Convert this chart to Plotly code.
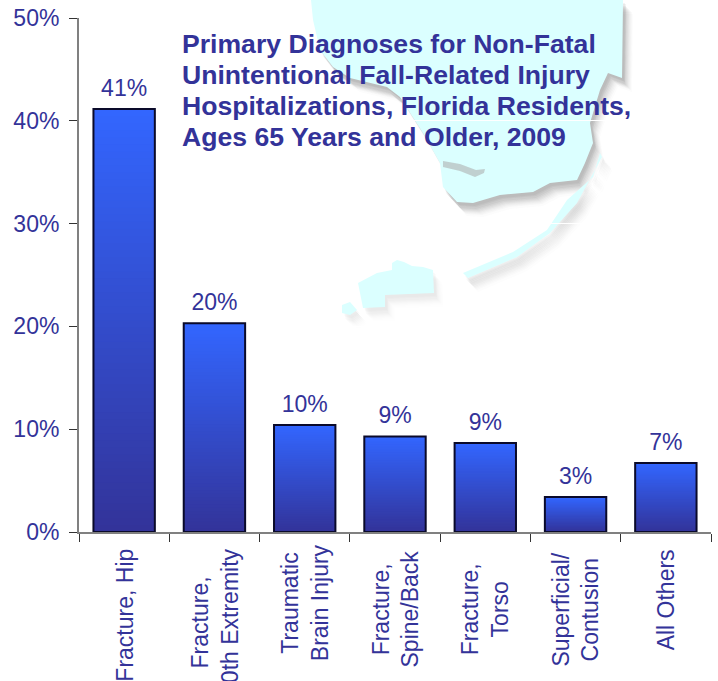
import plotly.graph_objects as go

categories = ["Fracture, Hip", "Fracture, 10th Extremity", "Traumatic Brain Injury",
              "Fracture, Spine/Back", "Fracture, Torso", "Superficial/ Contusion", "All Others"]
category_text = ["Fracture, Hip", "Fracture,<br>10th Extremity", "Traumatic<br>Brain Injury",
                 "Fracture,<br>Spine/Back", "Fracture,<br>Torso", "Superficial/<br>Contusion", "All Others"]
values = [41.15, 20.3, 10.4, 9.3, 8.65, 3.4, 6.7]
labels = ["41%", "20%", "10%", "9%", "9%", "3%", "7%"]
y_ticks = [0, 10, 20, 30, 40, 50]
y_tick_labels = ["0%", "10%", "20%", "30%", "40%", "50%"]
title_lines = ["Primary Diagnoses for Non-Fatal", "Unintentional Fall-Related Injury",
               "Hospitalizations, Florida Residents,", "Ages 65 Years and Older, 2009"]
title_line_y = [44, 75, 106, 137]
label_tops = [548, 548, 543, 550, 562, 552, 548]

TEXT = "#333399"
TOP = (51, 102, 255)
BOTTOM = (51, 51, 153)
STEPS = 60
L, R, T, B = 79, 711, 18, 532
W, H = 718, 681

# decorative Florida silhouette behind the plot, page pixels
mainland = [(311,0),(313,20),(320,50),(333,67),(350,78),(387,87),(400,97),(423,133),(440,163),(443,187),
            (457,202),(473,203),(500,195),(533,192),(550,183),(577,180),(585,163),(593,143),(590,123),
            (600,90),(608,73),(622,78),(623,0)]
keys = [(600,153),(593,177),(567,200),(547,230),(513,252),(463,273),(468,278),(517,257),(550,233),(577,203),(602,157)]
island = [(392,263),(397,260),(404,262),(412,266),(423,267),(433,270),(434,293),(385,295),(385,307),
          (363,308),(358,283),(377,273),(392,270)]
islet = [(342,305),(350,302),(357,310),(350,315),(342,313)]
notch = [(443,161),(460,164),(476,170),(485,169),(484,173),(475,177),(460,171),(443,167)]


def path(points, dx=0, dy=0):
    conv = [((x + dx - L) / (R - L), (B - y - dy) / (B - T)) for x, y in points]
    return "M" + "L".join(f"{a:.4f},{b:.4f}" for a, b in conv) + "Z"


shapes = []
for poly, strength in ((mainland, 1.3), (keys, .8), (island, .35), (islet, .35)):
    for dx, dy, a in [(10, 14, .015), (9, 12, .02), (8, 11, .025), (7, 10, .03), (6, 9, .035),
                      (5, 8, .04), (4, 7, .045), (3, 6, .05), (3, 4, .05), (2, 3, .05)]:
        shapes.append(dict(type="path", xref="paper", yref="paper", path=path(poly, dx, dy), layer="below",
                           line=dict(width=0), fillcolor=f"rgba(90,90,90,{a * strength:.3f})"))
for poly in (mainland, keys, island, islet):
    shapes.append(dict(type="path", xref="paper", yref="paper", path=path(poly), layer="below",
                       line=dict(width=0), fillcolor="#DBFFFF"))
shapes.append(dict(type="path", xref="paper", yref="paper", path=path(notch), layer="below",
                   line=dict(width=0), fillcolor="rgba(170,170,170,0.55)"))

fig = go.Figure()
for k in range(STEPS):
    t = (k + .5) / STEPS
    c = tuple(round(BOTTOM[i] + (TOP[i] - BOTTOM[i]) * t) for i in range(3))
    fig.add_bar(x=categories, y=[v * (STEPS - k) / STEPS for v in values], base=[v * k / STEPS for v in values],
                marker=dict(color=f"rgb{c}", line=dict(width=0)), hoverinfo="skip", showlegend=False)
fig.add_bar(x=categories, y=values, marker=dict(color="rgba(0,0,0,0)", line=dict(color="#0A0A2A", width=2)),
            showlegend=False)
fig.add_scatter(x=categories, y=[v + 0.7 for v in values], mode="text", text=labels, textposition="top center",
                textfont=dict(size=23, color=TEXT, family="Liberation Sans"), showlegend=False, hoverinfo="skip")

for line, py in zip(title_lines, title_line_y):
    fig.add_annotation(xref="paper", yref="paper", x=(182 - L) / (R - L), y=(B - py) / (B - T),
                       xanchor="left", yanchor="middle", align="left", showarrow=False, xshift=-2,
                       text=f"<b>{line}</b>", font=dict(size=26.6, color=TEXT, family="Liberation Sans"))

for cat, txt, top in zip(categories, category_text, label_tops):
    fig.add_annotation(x=cat, xref="x", yref="paper", y=0, yanchor="top", yshift=-(top - B), xanchor="center",
                       textangle=-90, align="center", showarrow=False, text=txt, borderpad=0,
                       font=dict(size=23, color=TEXT, family="Liberation Sans"))

fig.update_layout(
    width=W, height=H, barmode="overlay", bargap=0.32,
    margin=dict(l=L, r=W - R, t=T, b=H - B, autoexpand=False),
    paper_bgcolor="white", plot_bgcolor="rgba(0,0,0,0)", shapes=shapes,
    font=dict(family="Liberation Sans", color=TEXT, size=23),
    xaxis=dict(type="category", tickson="boundaries", ticks="outside", ticklen=8, tickcolor="#333333", tickwidth=1,
               showline=True, linecolor="#808080", linewidth=2, showgrid=False, automargin=False,
               showticklabels=False),
    yaxis=dict(range=[0, 50], tickvals=y_ticks, ticktext=y_tick_labels, ticks="outside", ticklen=8,
               tickcolor="#333333", tickwidth=1, showline=True, linecolor="#808080", linewidth=2,
               showgrid=True, gridcolor="white", gridwidth=1, zeroline=False, automargin=False,
               ticklabelstandoff=5, tickfont=dict(size=23, color=TEXT)),
)
fig.write_html("out.html", config=dict(displayModeBar=False),
               post_script="document.body.style.margin='0';document.documentElement.style.overflow='hidden';")
